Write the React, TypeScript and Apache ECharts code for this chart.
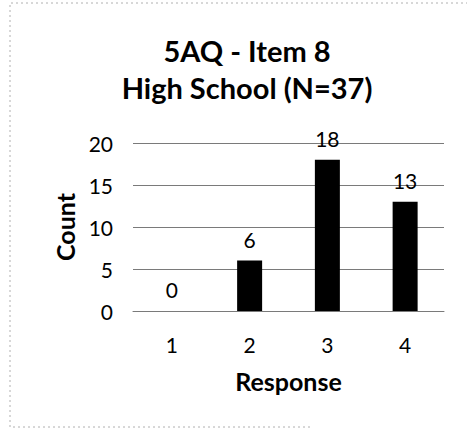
import React, { useEffect, useRef } from "react";
import * as echarts from "echarts";

const titleLines = ["5AQ - Item 8", "High School (N=37)"];
const categories = ["1", "2", "3", "4"];
const counts = [0, 6, 18, 13];
const yTicks = { min: 0, max: 20, interval: 5 };
const xAxisTitle = "Response";
const yAxisTitle = "Count";

const FONT = "Lato, 'Open Sans', sans-serif";

export default function App() {
  const ref = useRef<HTMLDivElement>(null);
  useEffect(() => {
    if (!ref.current) return;
    const chart = echarts.init(ref.current, undefined, { renderer: "svg" });
    chart.setOption({
      animation: false,
      backgroundColor: "#ffffff",
      textStyle: { fontFamily: FONT },
      graphic: [
        {
          type: "text",
          x: 247,
          y: 50,
          style: {
            text: titleLines[0],
            font: `bold 29px ${FONT}`,
            fill: "#000",
            textAlign: "center",
            textVerticalAlign: "middle",
          },
        },
        {
          type: "text",
          x: 247,
          y: 87,
          style: {
            text: titleLines[1],
            font: `bold 29px ${FONT}`,
            fill: "#000",
            textAlign: "center",
            textVerticalAlign: "middle",
          },
        },
        {
          type: "polyline",
          shape: { points: [[310, 427], [10, 427], [10, 3], [467, 3]] },
          style: { stroke: "#b0b0b0", lineWidth: 1, lineDash: [2, 3], fill: null },
          silent: true,
        },
      ],
      grid: { left: 133, right: 23, top: 143, bottom: 119, containLabel: false },
      xAxis: {
        type: "category",
        data: categories,
        axisTick: { show: false },
        axisLine: { show: true, lineStyle: { color: "#7a7a7a", width: 1 } },
        axisLabel: { color: "#000", fontSize: 21, fontFamily: FONT, margin: 23 },
        name: xAxisTitle,
        nameLocation: "middle",
        nameGap: 57,
        nameTextStyle: { color: "#000", fontSize: 25, fontWeight: "bold", fontFamily: FONT },
      },
      yAxis: {
        type: "value",
        min: yTicks.min,
        max: yTicks.max,
        interval: yTicks.interval,
        axisLine: { show: false },
        axisTick: { show: false },
        axisLabel: { color: "#000", fontSize: 21, fontFamily: FONT, margin: 20 },
        splitLine: { show: true, lineStyle: { color: "#7a7a7a", width: 1 } },
        name: yAxisTitle,
        nameLocation: "middle",
        nameRotate: 90,
        nameGap: 55,
        nameTextStyle: { color: "#000", fontSize: 25, fontWeight: "bold", fontFamily: FONT },
      },
      series: [
        {
          type: "bar",
          data: counts,
          barWidth: 25,
          itemStyle: { color: "#000" },
          label: {
            show: true,
            position: "top",
            distance: 11,
            color: "#000",
            fontSize: 21,
            fontFamily: FONT,
          },
        },
      ],
    });
    return () => chart.dispose();
  }, []);
  return (
    <div
      ref={ref}
      style={{ position: "absolute", left: 0, top: 0, width: 467, height: 430 }}
    />
  );
}
